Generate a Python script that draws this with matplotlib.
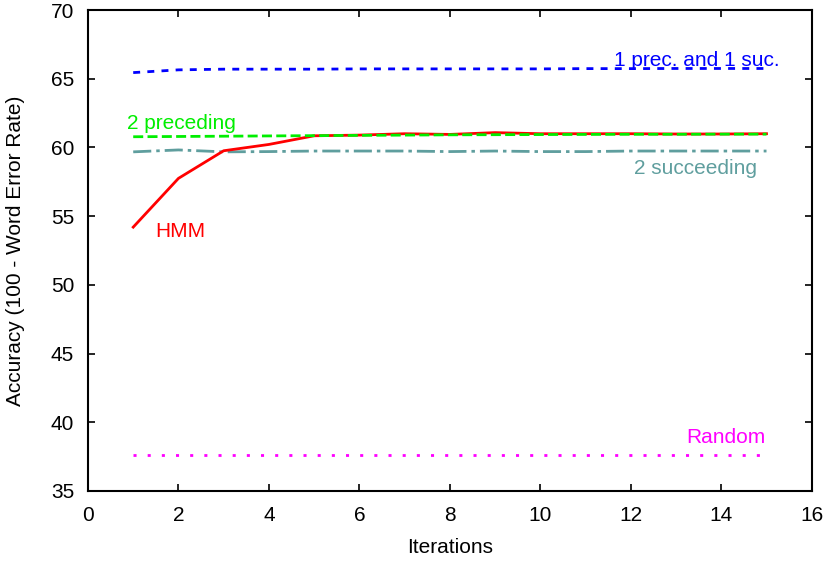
import matplotlib.pyplot as plt
import numpy as np

plt.rcParams["font.family"] = ["Liberation Sans", "DejaVu Sans"]

iterations = np.arange(1, 16)
prec_and_suc = [65.45, 65.65, 65.7, 65.7, 65.7, 65.72, 65.72, 65.72, 65.72, 65.72,
                65.74, 65.74, 65.75, 65.75, 65.75]
two_preceding = [60.78, 60.8, 60.82, 60.84, 60.86, 60.88, 60.9, 60.92, 60.93, 60.94,
                 60.95, 60.96, 60.96, 60.97, 60.97]
two_succeeding = [59.68, 59.82, 59.68, 59.7, 59.74, 59.74, 59.74, 59.7, 59.74, 59.7,
                  59.7, 59.74, 59.74, 59.74, 59.74]
hmm = [54.2, 57.75, 59.76, 60.22, 60.85, 60.9, 61.0, 60.95, 61.08, 61.0,
       61.0, 61.0, 60.98, 60.98, 61.0]
random_baseline = [37.62] * 15

fig = plt.figure(figsize=(8.3, 5.61), dpi=100)
ax = fig.add_axes([0.106, 0.125, 0.872, 0.857])

ax.plot(iterations, random_baseline, color="#ff00ff", lw=2, linestyle=(0, (1.1, 4.0)))
ax.plot(iterations, two_succeeding, color="#5f9e9e", lw=2, linestyle=(0, (6.5, 1.8, 1.25, 1.8)))
ax.plot(iterations, hmm, color="#ff0000", lw=2)
ax.plot(iterations, two_preceding, color="#00ee00", lw=2, linestyle=(0, (3.6, 1.55)))
ax.plot(iterations, prec_and_suc, color="#0000ff", lw=2, linestyle=(0, (2.5, 2.6)))

# in-plot labels instead of a legend
ax.text(15.29, 65.92, "1 prec. and 1 suc.", color="#0000ff", fontsize=15, ha="right", va="baseline")
ax.text(0.86, 61.34, "2 preceding", color="#00ee00", fontsize=15, ha="left", va="baseline")
ax.text(14.8, 58.06, "2 succeeding", color="#5f9e9e", fontsize=15, ha="right", va="baseline")
ax.text(1.48, 53.46, "HMM", color="#ff0000", fontsize=15, ha="left", va="baseline")
ax.text(14.98, 38.46, "Random", color="#ff00ff", fontsize=15, ha="right", va="baseline")

ax.set_xlim(0, 16)
ax.set_ylim(35, 70)
ax.set_xticks(np.arange(0, 17, 2))
ax.set_yticks(np.arange(35, 71, 5))
ax.tick_params(direction="in", top=True, right=True, length=5, width=1.2, labelsize=15)
ax.tick_params(axis="x", pad=11)
ax.tick_params(axis="y", pad=10)
for spine in ax.spines.values():
    spine.set_linewidth(1.5)

ax.set_xlabel("Iterations", fontsize=15)
ax.set_ylabel("Accuracy (100 - Word Error Rate)", fontsize=15)
ax.xaxis.set_label_coords(0.5, -0.097)
ax.yaxis.set_label_coords(-0.087, 0.5)

fig.savefig("out.png", dpi=100)
